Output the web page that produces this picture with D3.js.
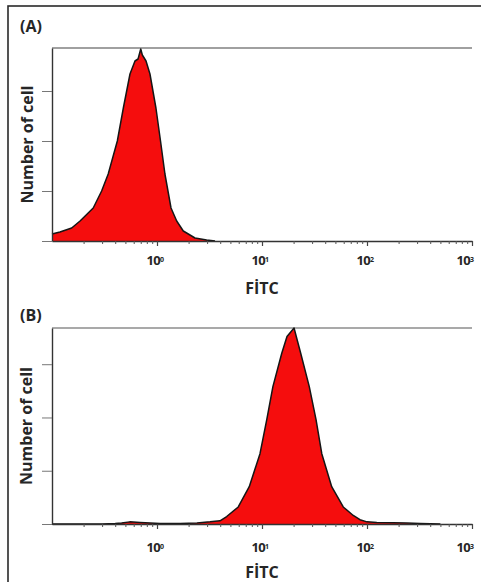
<!DOCTYPE html>
<html>
<head>
<meta charset="utf-8">
<script src="https://cdn.jsdelivr.net/npm/d3@7"></script>
<style>
  html, body { margin: 0; padding: 0; background: #fff; }
  svg { display: block; }
  text { font-family: "Open Sans", "Noto Sans", sans-serif; font-weight: 700; fill: #262626; }
</style>
</head>
<body>
<svg id="chart" width="481" height="582"></svg>
<script>
// Histogram (A): FITC intensity (log scale) vs number of cells
const fitcA = [0.1, 0.119, 0.154, 0.185, 0.247, 0.297, 0.343, 0.419, 0.478, 0.553, 0.617, 0.66, 0.70, 0.725, 0.786, 0.857, 0.977, 1.08, 1.19, 1.36, 1.54, 1.78, 2.30, 2.97, 3.57];
const countsA = [7, 9, 13, 20, 33, 50, 67, 100, 133, 167, 180, 182, 192, 186, 180, 167, 133, 100, 67, 33, 20, 10, 3, 1, 0];

// Histogram (B)
const fitcB = [0.1, 0.2, 0.3, 0.4, 0.46, 0.55, 0.69, 0.86, 1.07, 1.66, 2.4, 3.2, 3.98, 4.61, 5.94, 7.56, 9.57, 11.1, 12.7, 15.4, 17.3, 20.2, 21.2, 23.4, 28.2, 32.7, 37.1, 46.1, 59.4, 74, 85.7, 100, 124, 178, 239, 320, 400, 500];
const countsB = [0, 0, 0, 0.5, 1, 2, 1.5, 1, 0.5, 0.5, 1, 2, 3, 7, 16, 35, 66, 98, 129, 160, 176, 184, 176, 160, 129, 98, 66, 35, 16, 8, 4, 2, 1.5, 1.2, 1, 0.5, 0.3, 0];

// Axis ticks
const majorTicks = [1, 10, 100, 1000];
const minorTicks = [0.2, 0.3, 0.4, 0.5, 0.6, 0.7, 0.8, 0.9, 2, 3, 4, 5, 6, 7, 8, 9, 20, 30, 40, 50, 60, 70, 80, 90, 200, 300, 400, 500, 600, 700, 800, 900];
const countTicks = [0, 50, 100, 150];
const panelLabels = ["(A)", "(B)"];
const xTitle = "FİTC";
const yTitle = "Number of cell";

const svg = d3.select("#chart");

// outer frame
svg.append("rect")
  .attr("x", 8).attr("y", 6).attr("width", 490).attr("height", 600)
  .attr("fill", "none").attr("stroke", "#2a2a2a").attr("stroke-width", 1.6);

const layout = [
  { top: 48, bottom: 241, yMax: 193, topStroke: "#a0a0a0", topWidth: 2.2, labelY: 32, tickLabelY: 265, titleY: 294, yTitleX: 27 },
  { top: 328, bottom: 524, yMax: 184, topStroke: "#555", topWidth: 1.2, labelY: 321, tickLabelY: 552, titleY: 578, yTitleX: 26 }
];
const left = 52, right = 472;

const series = [
  fitcA.map((f, i) => ({ f, c: countsA[i] })),
  fitcB.map((f, i) => ({ f, c: countsB[i] }))
];

layout.forEach((L, p) => {
  const x = d3.scaleLog().domain([0.1, 1000]).range([left, right]);
  const y = d3.scaleLinear().domain([0, L.yMax]).range([L.bottom, L.top]);
  const g = svg.append("g");

  // panel letter
  g.append("text").attr("x", 20).attr("y", L.labelY)
    .attr("font-size", 16).text(panelLabels[p]);

  // top frame line
  g.append("line")
    .attr("x1", left).attr("x2", right)
    .attr("y1", L.top).attr("y2", L.top)
    .attr("stroke", L.topStroke).attr("stroke-width", L.topWidth);

  // histogram
  const data = series[p];
  g.append("path").datum(data)
    .attr("d", d3.area().x(d => x(d.f)).y0(y(0)).y1(d => y(d.c)))
    .attr("fill", "#f50d0d");
  g.append("path").datum(data)
    .attr("d", d3.line().x(d => x(d.f)).y(d => y(d.c)))
    .attr("fill", "none").attr("stroke", "#151515").attr("stroke-width", 1.5)
    .attr("stroke-linejoin", "round");

  // y axis
  const ya = g.append("g").attr("transform", `translate(${left},0)`)
    .call(d3.axisLeft(y).tickValues(countTicks).tickSize(10).tickSizeOuter(0).tickFormat(""));
  ya.select(".domain").attr("stroke", "#333").attr("stroke-width", 1.4);
  ya.selectAll(".tick line").attr("stroke", "#777").attr("stroke-width", 1);

  // x axis: minor ticks
  const xm = g.append("g").attr("transform", `translate(0,${L.bottom})`)
    .call(d3.axisBottom(x).tickValues(minorTicks).tickSize(3).tickSizeOuter(0).tickFormat(""));
  xm.select(".domain").attr("stroke", "#333").attr("stroke-width", 1.4);
  xm.selectAll(".tick line").attr("stroke", "#555").attr("stroke-width", 1);

  // x axis: major ticks
  const xM = g.append("g").attr("transform", `translate(0,${L.bottom})`)
    .call(d3.axisBottom(x).tickValues(majorTicks).tickSize(5).tickSizeOuter(0).tickFormat(""));
  xM.select(".domain").remove();
  xM.selectAll(".tick line").attr("stroke", "#444").attr("stroke-width", 1.2);

  // decade labels
  g.selectAll(".dec").data(majorTicks).join("text")
    .attr("class", "dec")
    .attr("x", (d, i) => x(d) - (i === majorTicks.length - 1 ? 7 : 2))
    .attr("y", L.tickLabelY)
    .attr("text-anchor", "middle")
    .attr("font-size", 13)
    .attr("letter-spacing", -0.7)
    .each(function (d) {
      const t = d3.select(this);
      t.append("tspan").text("10");
      t.append("tspan").attr("dy", "-0.5em").attr("font-size", 7)
        .text(Math.round(Math.log10(d)));
    });

  // axis titles
  g.append("text").attr("x", (left + right) / 2).attr("y", L.titleY)
    .attr("text-anchor", "middle").attr("font-size", 16).text(xTitle);
  g.append("text")
    .attr("transform", `translate(${L.yTitleX + 6},${(L.top + L.bottom) / 2}) rotate(-90)`)
    .attr("text-anchor", "middle").attr("font-size", 16).text(yTitle);
});
</script>
</body>
</html>
